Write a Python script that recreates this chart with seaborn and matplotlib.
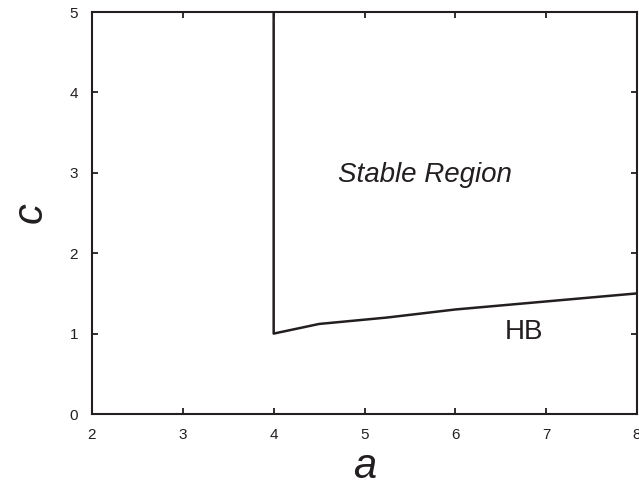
import matplotlib
matplotlib.use("Agg")
import matplotlib.pyplot as plt
import seaborn as sns
import pandas as pd

# Data
boundary_a = [4.0, 4.0, 4.5, 5.25, 6.0, 7.0, 8.0]
boundary_c = [5.0, 1.0, 1.12, 1.2, 1.3, 1.4, 1.5]
x_ticks = [2, 3, 4, 5, 6, 7, 8]
y_ticks = [0, 1, 2, 3, 4, 5]
label_region = "Stable Region"
label_hb = "HB"

sns.set_style("ticks")
plt.rcParams['font.family'] = ['Liberation Sans', 'DejaVu Sans']

ink = "#231f20"
fig = plt.figure(figsize=(6.39, 5.01), dpi=100)
ax = fig.add_axes([92/639, 1-414/501, (637-92)/639, (414-12)/501])

df = pd.DataFrame({"a": boundary_a, "c": boundary_c})
sns.lineplot(data=df, x="a", y="c", sort=False, estimator=None, ax=ax,
             color=ink, linewidth=1.8)

ax.set_xlim(2, 8)
ax.set_ylim(0, 5)
ax.set_xticks(x_ticks)
ax.set_yticks(y_ticks)
ax.tick_params(direction='in', top=True, right=True, length=4.5, width=1.3,
               labelsize=11, pad=10, colors=ink)
for s in ax.spines.values():
    s.set_visible(True)
    s.set_linewidth(1.5)
    s.set_color(ink)

ax.set_xlabel("a", fontsize=30, style='italic', color=ink, labelpad=4)
ax.set_ylabel("c", fontsize=30, style='italic', color=ink, labelpad=14)

ax.text(5.67, 2.97, label_region, fontsize=20, style='italic', color=ink,
        ha='center', va='center')
ax.text(6.76, 1.02, label_hb, fontsize=20, color=ink, ha='center', va='center')

fig.savefig("out.png", dpi=100)
